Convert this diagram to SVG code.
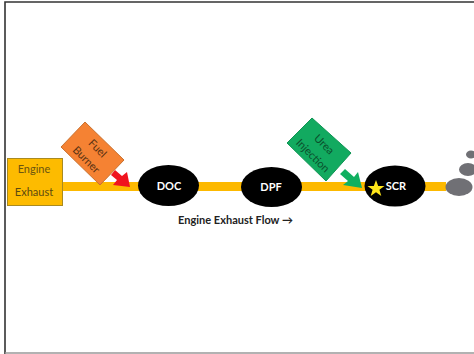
<svg xmlns="http://www.w3.org/2000/svg" width="474" height="354" viewBox="0 0 474 354">
<style>
text{font-family:Lato,"Liberation Sans",Arial,sans-serif;text-anchor:middle}
.node{fill:#000}
.nl{fill:#fff;font-size:11px;font-weight:700}
.dark{font-size:11px}
.smoke{fill:#707075}
</style>
<rect width="474" height="354" fill="#fff"/>
<g id="frame">
<path d="M5 354V2H474" fill="none" stroke="#333" stroke-width="1.6"/>
<path d="M5 353H474" fill="none" stroke="#999" stroke-width="1.5"/>
</g>
<g id="connectors">
<rect x="62" y="182" width="384" height="9" fill="#fdb900"/>
<path d="M111 175L115 170L122 176L127 172L130 187L113 185L117 180Z" fill="#f0141e"/>
<path d="M340 174L345 169L354 177L358 172L362 188L343 185L348 181Z" fill="#10b060"/>
</g>
<g id="engine-exhaust">
<rect x="7.500" y="158.500" width="55" height="47" fill="#fdbb00" stroke="#a98a20"/>
<text class="dark" x="34" y="173" style="fill:#6b5510">Engine</text>
<text class="dark" x="34" y="196" style="fill:#5b4a10">Exhaust</text>
</g>
<g id="fuel-burner">
<path d="M85 122L124 160L100 185L61 147Z" fill="#f58233" stroke="#c9712f"/>
<g transform="translate(92.500 153.500) rotate(45)">
<text class="dark" x="0" y="-3.500" style="fill:#5a3212">Fuel</text>
<text class="dark" x="0" y="12.500" style="fill:#5a3212">Burner</text>
</g>
</g>
<g id="urea-injection">
<path d="M312 118L351 153L326 181L287 143Z" fill="#12aa60" stroke="#0f9554"/>
<g transform="translate(319 149.500) rotate(45)">
<text class="dark" x="0" y="-3.500" style="fill:#0b4f2c">Urea</text>
<text class="dark" x="0" y="12.500" style="fill:#0b4f2c">Injection</text>
</g>
</g>
<g id="doc">
<ellipse class="node" cx="168.500" cy="185.500" rx="30.500" ry="20.500"/>
<text class="nl" x="169" y="189.500">DOC</text>
</g>
<g id="dpf">
<ellipse class="node" cx="271.500" cy="187" rx="30.500" ry="20"/>
<text class="nl" x="271" y="190.500">DPF</text>
</g>
<g id="scr">
<ellipse class="node" cx="395" cy="186" rx="30.500" ry="20.500"/>
<path d="M376 180L378.200 186L384.500 186L379.400 189.800L381.300 196L376 192.200L370.700 196L372.600 189.800L367.500 186L373.800 186Z" fill="#ffe61a"/>
<text class="nl" x="396" y="190">SCR</text>
</g>
<g id="smoke">
<ellipse class="smoke" cx="459" cy="187" rx="13.500" ry="9"/>
<ellipse class="smoke" cx="468" cy="169.500" rx="9" ry="6.500"/>
<ellipse class="smoke" cx="471" cy="154.500" rx="5" ry="4"/>
</g>
<g id="flow-label">
<text x="235.500" y="224" style="fill:#222;font-size:11px;font-weight:700">Engine Exhaust Flow →</text>
</g>
</svg>
